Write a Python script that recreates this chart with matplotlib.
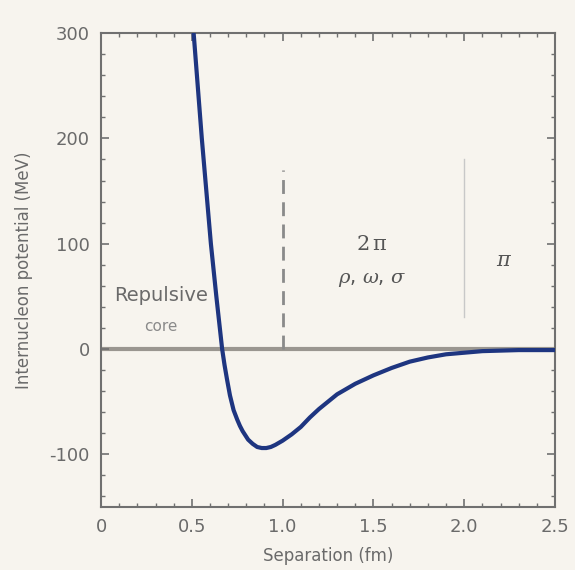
import numpy as np
import matplotlib
matplotlib.use('Agg')
import matplotlib.pyplot as plt
from matplotlib.ticker import MultipleLocator

plt.rcParams['mathtext.fontset'] = 'dejavuserif'
plt.rcParams['axes.unicode_minus'] = False

# potential curve
sep_fm = [0.51, 0.555, 0.605, 0.635, 0.667, 0.68, 0.694, 0.71, 0.73, 0.75,
          0.765, 0.78, 0.81, 0.835, 0.86, 0.885, 0.91, 0.935, 0.96, 1.0,
          1.05, 1.1, 1.15, 1.2, 1.25, 1.3, 1.35, 1.4, 1.5, 1.6,
          1.7, 1.8, 1.9, 2.0, 2.1, 2.2, 2.3, 2.5]
pot_mev = [300, 200, 100, 50, 0, -15, -29, -44, -58, -67,
           -73, -78, -86, -90, -93, -94, -94, -93, -91, -87,
           -81, -74, -65, -57, -50, -43, -38, -33, -25, -18,
           -12, -8, -5, -3.5, -2, -1.5, -1, -1]

xticks = [0, 0.5, 1.0, 1.5, 2.0, 2.5]
xtick_labels = ['0', '0.5', '1.0', '1.5', '2.0', '2.5']
yticks = [-100, 0, 100, 200, 300]

bg = '#f7f4ee'
grey = '#707070'

fig = plt.figure(figsize=(5.75, 5.70), dpi=100, facecolor=bg)
ax = fig.add_axes([0.1757, 0.1105, 0.7895, 0.8315], facecolor=bg)

ax.axhline(0, color='#9a9690', lw=3, zorder=1)
ax.plot([1.0, 1.0], [0, 170], color='#8a8a8a', lw=2, ls=(0, (5, 3)), zorder=2)
ax.plot([2.0, 2.0], [30, 180], color='#c8c8c8', lw=1, zorder=2)
ax.plot(sep_fm, pot_mev, color='#1e3580', lw=3, zorder=3,
        solid_capstyle='round', solid_joinstyle='round')

ax.set_xlim(0, 2.5)
ax.set_ylim(-150, 300)
ax.set_xticks(xticks)
ax.set_xticklabels(xtick_labels)
ax.set_yticks(yticks)
ax.xaxis.set_minor_locator(MultipleLocator(0.1))
ax.yaxis.set_minor_locator(MultipleLocator(20))
ax.tick_params(which='both', direction='in', top=True, right=True, color=grey)
ax.tick_params(which='major', length=6, width=1.2, labelsize=13, labelcolor='#6a6a6a', pad=8)
ax.tick_params(which='minor', length=3, width=1)
for s in ax.spines.values():
    s.set_color(grey)
    s.set_linewidth(1.5)

ax.set_xlabel('Separation (fm)', fontsize=12, color='#6a6a6a', labelpad=8)
ax.set_ylabel('Internucleon potential (MeV)', fontsize=12, color='#6a6a6a', labelpad=12)

ax.text(0.33, 51, 'Repulsive', ha='center', va='center', fontsize=14, color='#6a6a6a')
ax.text(0.33, 21, 'core', ha='center', va='center', fontsize=11, color='#8a8a8a')
ax.text(1.49, 99, r'2$\,\mathrm{\pi}$', ha='center', va='center', fontsize=15, color='#555555',
        family='DejaVu Serif')
ax.text(1.49, 66, r'$\rho$, $\omega$, $\sigma$', ha='center', va='center', fontsize=14,
        color='#555555')
ax.text(2.22, 85, r'$\pi$', ha='center', va='center', fontsize=15, color='#555555')

fig.savefig('out.png', dpi=100, facecolor=bg)
